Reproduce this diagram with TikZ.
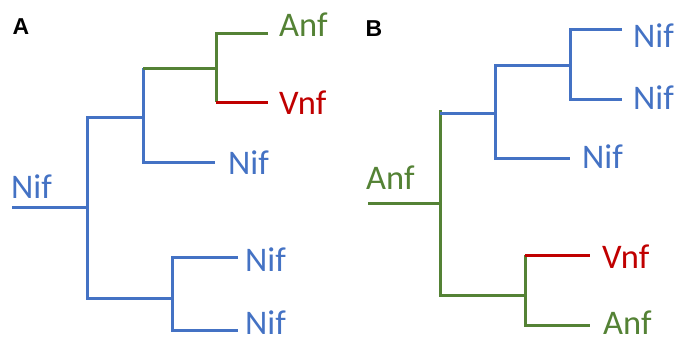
\documentclass[tikz,border=0pt]{standalone}
\usepackage{fontspec}
\setmainfont{Carlito}
\newfontfamily\labelfont{Liberation Sans}
\definecolor{tblue}{HTML}{4472C4}
\definecolor{tgreen}{HTML}{548235}
\definecolor{tred}{HTML}{C00000}
\begin{document}
\begin{tikzpicture}[x=1pt,y=-1pt,
  br/.style={line width=3pt,line cap=butt,line join=miter},
  lbl/.style={anchor=west,inner sep=0pt,font=\fontsize{34.5}{40}\selectfont},
  panel/.style={inner sep=0pt,font=\labelfont\bfseries\fontsize{23}{26}\selectfont}]
\useasboundingbox (0,0) rectangle (678,341);
% ---------- Panel A ----------
\node[panel] (pA) at (21,27) {A};
\coordinate (aR) at (12,207);
\coordinate (a0) at (87,207);
\coordinate (a0t) at (87,117);
\coordinate (a0b) at (87,298);
\coordinate (a1) at (143,117);
\coordinate (a1t) at (143,68);
\coordinate (a1b) at (143,162);
\coordinate (a2) at (216,68);
\coordinate (a2t) at (216,33);
\coordinate (a2b) at (216,102);
\coordinate (a3) at (172,298);
\coordinate (a3t) at (172,257);
\coordinate (a3b) at (172,330);
\coordinate (eAnf) at (268,33);
\coordinate (eVnf) at (268,102);
\coordinate (eN1) at (215,162);
\coordinate (eN2) at (238,257);
\coordinate (eN3) at (238,330);
\node[lbl,text=tblue] (tAroot) at (11,187) {Nif};
\node[lbl,text=tgreen] (tA1) at (279,25) {Anf};
\node[lbl,text=tred] (tA2) at (279,103) {Vnf};
\node[lbl,text=tblue] (tA3) at (228,163) {Nif};
\node[lbl,text=tblue] (tA4) at (245,260) {Nif};
\node[lbl,text=tblue] (tA5) at (245,323) {Nif};
\draw[br,tblue] (aR) -- (a0);
\draw[br,tblue] (a1) -- (a0t) -- (a0b) -- (a3);
\draw[br,tblue] (a1t) -- (a1b) -- (eN1);
\draw[br,tgreen] (a1t) -- (a2);
\draw[br,tgreen] (eAnf) -- (a2t) -- (a2b);
\draw[br,tred] (a2b) -- (eVnf);
\draw[br,tblue] (eN2) -- (a3t) -- (a3b) -- (eN3);
% ---------- Panel B ----------
\node[panel] (pB) at (374,29) {B};
\coordinate (bR) at (368,203);
\coordinate (b0) at (440,203);
\coordinate (b0t) at (440,110);
\coordinate (b0b) at (440,295);
\coordinate (b1s) at (440,113);
\coordinate (b1) at (495,113);
\coordinate (b1t) at (495,65);
\coordinate (b1b) at (495,158);
\coordinate (b2) at (570,65);
\coordinate (b2t) at (570,29);
\coordinate (b2b) at (570,99);
\coordinate (b3) at (525,295);
\coordinate (b3t) at (525,255);
\coordinate (b3b) at (525,325);
\coordinate (fN1) at (622,29);
\coordinate (fN2) at (622,99);
\coordinate (fN3) at (570,158);
\coordinate (fVnf) at (590,255);
\coordinate (fAnf) at (590,325);
\node[lbl,text=tgreen] (tBroot) at (366,178) {Anf};
\node[lbl,text=tblue] (tB1) at (633,36) {Nif};
\node[lbl,text=tblue] (tB2) at (633,98) {Nif};
\node[lbl,text=tblue] (tB3) at (582,157) {Nif};
\node[lbl,text=tred] (tB4) at (602,257) {Vnf};
\node[lbl,text=tgreen] (tB5) at (603,323) {Anf};
\draw[br,tgreen] (bR) -- (b0);
\draw[br,tgreen] (b0t) -- (b0b) -- (b3);
\draw[br,tblue] (b1s) -- (b1);
\draw[br,tblue] (b2) -- (b1t) -- (b1b) -- (fN3);
\draw[br,tblue] (fN1) -- (b2t) -- (b2b) -- (fN2);
\draw[br,tgreen] (b3t) -- (b3b) -- (fAnf);
\draw[br,tred] (b3t) -- (fVnf);
\end{tikzpicture}
\end{document}
